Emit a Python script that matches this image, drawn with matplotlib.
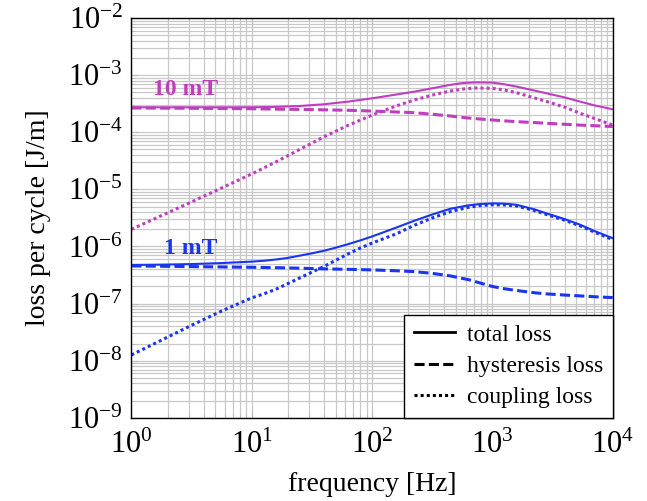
import numpy as np
import matplotlib
matplotlib.use("Agg")
import matplotlib.pyplot as plt
from matplotlib.lines import Line2D

# log10 of frequency [Hz] and log10 of loss [J/m]
lf_10 = [0.0, 0.5, 1.0, 1.2, 1.4, 1.6, 1.8, 2.0, 2.2, 2.35, 2.5, 2.65, 2.75, 2.85, 3.0, 3.1, 3.2, 3.35, 3.45, 3.6, 3.73, 3.85, 4.0]
total_10 = [-3.563, -3.563, -3.562, -3.555, -3.54, -3.51, -3.464, -3.406, -3.34, -3.29, -3.23, -3.17, -3.14, -3.126, -3.13, -3.16, -3.2, -3.27, -3.318, -3.39, -3.464, -3.53, -3.598]
hyst_10 = [-3.575, -3.58, -3.588, -3.595, -3.6, -3.607, -3.615, -3.628, -3.645, -3.657, -3.685, -3.715, -3.74, -3.76, -3.785, -3.8, -3.815, -3.83, -3.843, -3.86, -3.875, -3.885, -3.9]
coup_10 = [-5.7, -5.22, -4.73, -4.52, -4.3, -4.08, -3.88, -3.7, -3.54, -3.435, -3.35, -3.278, -3.245, -3.225, -3.23, -3.26, -3.307, -3.4, -3.46, -3.56, -3.668, -3.76, -3.873]

lf_1 = [0.0, 0.25, 0.5, 0.75, 1.0, 1.1, 1.2, 1.3, 1.4, 1.5, 1.6, 1.7, 1.8, 1.9, 2.0, 2.2, 2.35, 2.5, 2.65, 2.8, 2.9, 3.0, 3.1, 3.2, 3.35, 3.45, 3.6, 3.73, 3.85, 4.0]
total_1 = [-6.323, -6.318, -6.308, -6.29, -6.265, -6.25, -6.228, -6.2, -6.16, -6.12, -6.075, -6.02, -5.96, -5.895, -5.825, -5.67, -5.55, -5.44, -5.34, -5.28, -5.256, -5.245, -5.25, -5.27, -5.35, -5.42, -5.52, -5.62, -5.73, -5.855]
hyst_1 = [-6.34, -6.346, -6.352, -6.358, -6.364, -6.367, -6.371, -6.375, -6.38, -6.387, -6.392, -6.396, -6.4, -6.405, -6.41, -6.425, -6.44, -6.47, -6.515, -6.58, -6.64, -6.7, -6.74, -6.77, -6.81, -6.83, -6.85, -6.865, -6.88, -6.895]
coup_1 = [-7.9, -7.64, -7.38, -7.13, -6.9, -6.83, -6.75, -6.65, -6.55, -6.45, -6.35, -6.24, -6.13, -6.03, -5.94, -5.78, -5.63, -5.5, -5.39, -5.315, -5.283, -5.27, -5.273, -5.29, -5.37, -5.44, -5.54, -5.64, -5.75, -5.88]

magenta = "#bf3ebf"
blue = "#1a35f0"
dashed = (0, (3.3, 1.4))
dotted = (0, (1, 1))

plt.rcParams["font.family"] = ["Liberation Serif", "DejaVu Serif"]
plt.rcParams["mathtext.fontset"] = "stix"

fig = plt.figure(figsize=(6.47, 5.01), dpi=100)
ax = fig.add_axes([0.203, 0.166, 0.744, 0.798])

f10 = 10 ** np.array(lf_10)
f1 = 10 ** np.array(lf_1)
ax.plot(f10, 10 ** np.array(total_10), color=magenta, lw=1.5, ls="-")
ax.plot(f10, 10 ** np.array(hyst_10), color=magenta, lw=2.2, ls=dashed)
ax.plot(f10, 10 ** np.array(coup_10), color=magenta, lw=2.2, ls=dotted)
ax.plot(f1, 10 ** np.array(total_1), color=blue, lw=1.5, ls="-")
ax.plot(f1, 10 ** np.array(hyst_1), color=blue, lw=2.2, ls=dashed)
ax.plot(f1, 10 ** np.array(coup_1), color=blue, lw=2.2, ls=dotted)

ax.set_xscale("log")
ax.set_yscale("log")
ax.set_xlim(1, 1e4)
ax.set_ylim(1e-9, 1e-2)
ax.xaxis.set_major_locator(matplotlib.ticker.LogLocator(base=10, numticks=10))
ax.yaxis.set_major_locator(matplotlib.ticker.LogLocator(base=10, numticks=10))
ax.xaxis.set_minor_locator(matplotlib.ticker.LogLocator(base=10, subs=np.arange(2, 10), numticks=20))
ax.yaxis.set_minor_locator(matplotlib.ticker.LogLocator(base=10, subs=np.arange(2, 10), numticks=20))
ax.grid(True, which="both", color="#c8c8c8", lw=0.9)
ax.set_axisbelow(True)
ax.tick_params(which="both", direction="in", top=True, right=True, labelsize=22, color="#bbbbbb")
ax.tick_params(axis="y", which="both", pad=6)
ax.tick_params(axis="x", which="both", pad=9)
ax.tick_params(which="major", length=5)
ax.tick_params(which="minor", length=3)
for s in ax.spines.values():
    s.set_linewidth(1.0)

ax.set_xlabel("frequency [Hz]", fontsize=20, labelpad=9)
ax.set_ylabel("loss per cycle [J/m]", fontsize=20, labelpad=12)

ax.text(1.5, 10 ** -3.26, "10 mT", color=magenta, fontsize=17, fontweight="bold", ha="left", va="center")
ax.text(1.88, 10 ** -6.03, "1 mT", color=blue, fontsize=17, fontweight="bold", ha="left", va="center")

handles = [Line2D([], [], color="black", lw=2, ls="-"),
           Line2D([], [], color="black", lw=2.2, ls=dashed),
           Line2D([], [], color="black", lw=2.2, ls=dotted)]
leg = ax.legend(handles, ["total loss", "hysteresis loss", "coupling loss"], loc="lower right",
                fontsize=17, frameon=True, fancybox=False, borderaxespad=0, handlelength=1.75,
                handletextpad=0.5, labelspacing=0.42, borderpad=0.4)
leg.get_frame().set_edgecolor("black")
leg.get_frame().set_linewidth(1.0)
leg.get_frame().set_alpha(1)

fig.savefig("out.png", dpi=100)
